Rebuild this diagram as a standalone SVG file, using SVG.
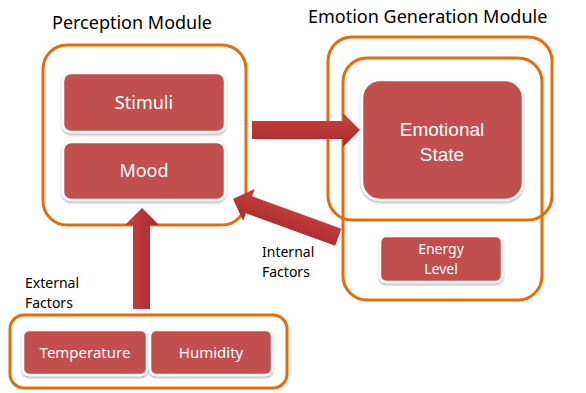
<svg xmlns="http://www.w3.org/2000/svg" width="586" height="393" viewBox="0 0 586 393">
<defs>
<filter id="sh" x="-10%" y="-10%" width="120%" height="130%"><feDropShadow dx="0" dy="1.5" stdDeviation="1.2" flood-color="#000" flood-opacity="0.35"/></filter>
<linearGradient id="ag" x1="0" y1="0" x2="0" y2="1"><stop offset="0" stop-color="#C8403F"/><stop offset="1" stop-color="#A82A2C"/></linearGradient>
<linearGradient id="agv" x1="0" y1="0" x2="1" y2="0"><stop offset="0" stop-color="#C8403F"/><stop offset="1" stop-color="#A82A2C"/></linearGradient>
</defs>
<style>
.mod{fill:none;stroke:#E46C0A;stroke-width:3}
.box{fill:#C0504D;stroke:#fff;stroke-width:2.5;filter:url(#sh)}
.t{font-family:"Noto Sans","Open Sans",sans-serif;fill:#fff;text-anchor:middle}
.ta{font-family:"Liberation Sans",Arial,sans-serif;fill:#fff;text-anchor:middle}
.lbl{font-family:"Noto Sans","Open Sans",sans-serif;fill:#000}
</style>
<text class="lbl" x="52" y="29" font-size="18">Perception Module</text>
<text class="lbl" x="308" y="23" font-size="18">Emotion Generation Module</text>
<g id="perception">
<rect class="mod" x="43" y="45" width="203" height="180" rx="24"/>
<g id="stimuli"><rect class="box" x="63" y="73" width="162" height="59" rx="8"/><text class="t" x="144" y="109" font-size="18">Stimuli</text></g>
<g id="mood"><rect class="box" x="63" y="142" width="162" height="58" rx="8"/><text class="t" x="144" y="177" font-size="18">Mood</text></g>
</g>
<g id="emotion">
<rect class="mod" x="343" y="58" width="199" height="242" rx="24"/>
<rect class="mod" x="328" y="37" width="224" height="183" rx="24"/>
<g id="state"><rect class="box" x="362" y="80" width="161" height="120" rx="18"/><text class="ta" x="442" y="136" font-size="19">Emotional</text><text class="ta" x="442" y="161" font-size="19">State</text></g>
<g id="energy"><rect class="box" x="380" y="236" width="122" height="46" rx="6"/><text class="t" x="441" y="254" font-size="14">Energy</text><text class="t" x="441" y="274" font-size="14">Level</text></g>
</g>
<g id="external">
<rect class="mod" x="10" y="315" width="277" height="73" rx="14"/>
<g id="temp"><rect class="box" x="23" y="330" width="124" height="45" rx="6"/><text class="t" x="85" y="358" font-size="15">Temperature</text></g>
<g id="hum"><rect class="box" x="150" y="330" width="122" height="45" rx="6"/><text class="t" x="211" y="358" font-size="15">Humidity</text></g>
</g>
<text class="lbl" x="25" y="288" font-size="14">External</text>
<text class="lbl" x="25" y="308" font-size="14">Factors</text>
<text class="lbl" x="262" y="257" font-size="14">Internal</text>
<text class="lbl" x="262" y="277" font-size="14">Factors</text>
<g id="connectors">
<polygon fill="url(#ag)" points="252,121 343,121 343,113 360,130 343,147 343,139 252,139"/>
<polygon fill="url(#agv)" points="133,309 133,225 125,225 142,208 159,225 150,225 150,309"/>
<polygon fill="url(#ag)" transform="translate(233,199) rotate(20)" points="0,0 17,-17 17,-9 112,-9 112,9 17,9 17,17"/>
</g>
</svg>
